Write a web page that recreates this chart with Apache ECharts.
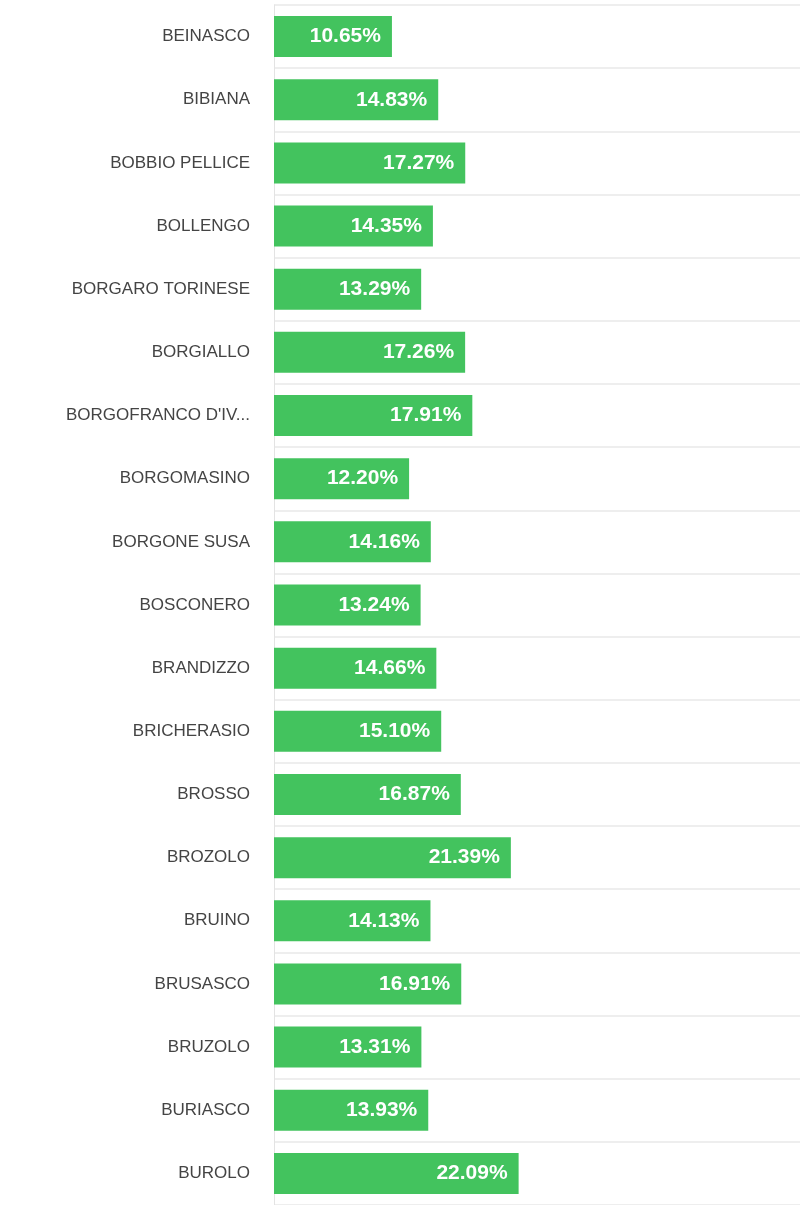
<!DOCTYPE html>
<html>
<head>
<meta charset="utf-8">
<script src="https://cdn.jsdelivr.net/npm/echarts@6/dist/echarts.min.js"></script>
<style>
html,body{margin:0;padding:0;background:#fff;}
#chart{width:800px;height:1205px;}
</style>
</head>
<body>
<div id="chart"></div>
<script>
const categories = ["BEINASCO","BIBIANA","BOBBIO PELLICE","BOLLENGO","BORGARO TORINESE","BORGIALLO","BORGOFRANCO D'IVREA","BORGOMASINO","BORGONE SUSA","BOSCONERO","BRANDIZZO","BRICHERASIO","BROSSO","BROZOLO","BRUINO","BRUSASCO","BRUZOLO","BURIASCO","BUROLO"];
const values = [10.65,14.83,17.27,14.35,13.29,17.26,17.91,12.20,14.16,13.24,14.66,15.10,16.87,21.39,14.13,16.91,13.31,13.93,22.09];

const chart = echarts.init(document.getElementById('chart'));
chart.setOption({
  animation:false,
  grid:{left:274,right:0,top:5,height:1201,containLabel:false},
  xAxis:{type:'value',min:0,max:47.5,show:false},
  yAxis:{
    type:'category',data:categories,inverse:true,
    axisTick:{show:false},
    axisLine:{show:true,lineStyle:{color:'#e3e3e3',width:1}},
    splitLine:{show:true,lineStyle:{color:'#eeeeee',width:2}},
    axisLabel:{color:'#444',fontSize:17,fontFamily:'Liberation Sans, Arial, sans-serif',margin:24,width:192,overflow:'truncate',ellipsis:'...',padding:[0,0,2,0]}
  },
  series:[{
    type:'bar',data:values,barWidth:41,
    itemStyle:{color:'#43c35e'},
    label:{show:true,position:'insideRight',distance:11,color:'#fff',fontWeight:'bold',fontSize:21,fontFamily:'Liberation Sans, Arial, sans-serif',formatter:p=>p.value.toFixed(2)+'%'}
  }]
});
</script>
</body>
</html>
